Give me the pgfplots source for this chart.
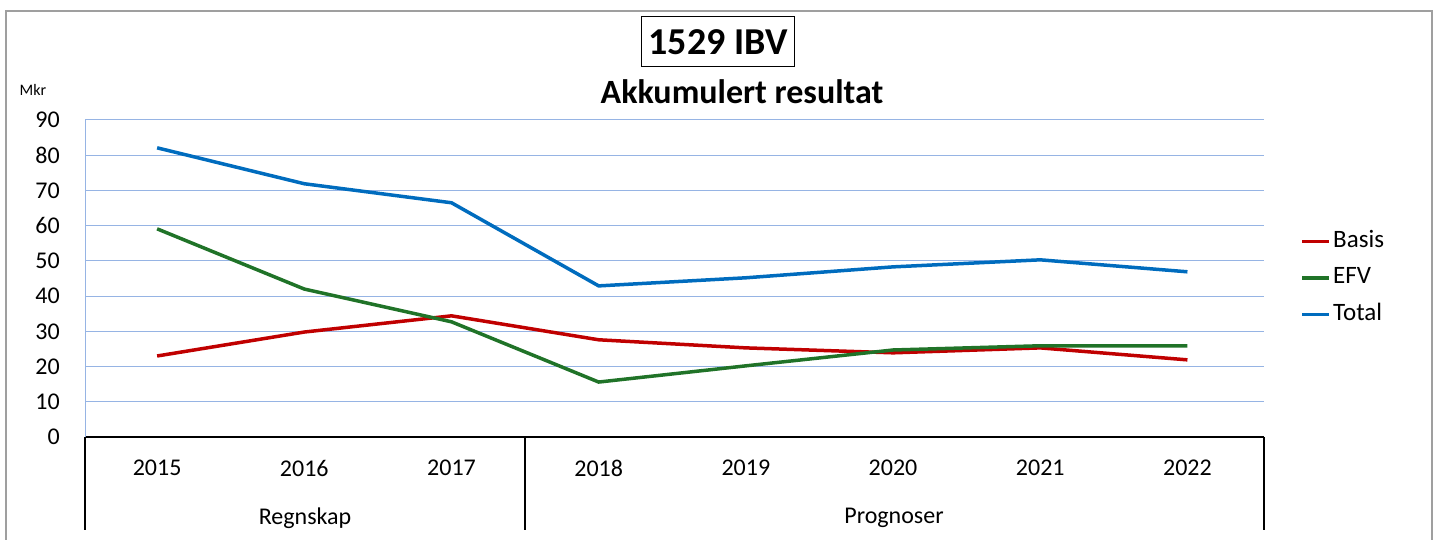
\documentclass[border=0pt]{standalone}
\usepackage{fontspec}
\setmainfont{Carlito}
\usepackage{pgfplots}
\pgfplotsset{compat=1.18}
\definecolor{cBasis}{RGB}{192,0,0}
\definecolor{cEFV}{RGB}{32,115,40}
\definecolor{cTotal}{RGB}{0,108,190}
\definecolor{cGrid}{RGB}{150,180,228}
\begin{document}
\begin{tikzpicture}
\useasboundingbox (0,0) rectangle (1437pt,540pt);
\draw[gray!75, line width=1.2pt] (6pt,0pt) -- (6pt,529pt) -- (1432pt,529pt) -- (1432pt,0pt);
\node[draw, line width=1pt, font=\fontsize{38}{40}\selectfont\bfseries, minimum height=50pt, inner xsep=7pt] at (718pt,498pt) {1529 IBV};
\node[font=\fontsize{34}{36}\selectfont\bfseries] at (742pt,448pt) {Akkumulert resultat};
\node[font=\fontsize{16}{18}\selectfont] at (33pt,450pt) {Mkr};
\begin{axis}[
  at={(85pt,103pt)}, anchor=south west,
  width=1179pt, height=317pt, scale only axis,
  xmin=-0.49, xmax=7.52, ymin=0, ymax=90,
  ytick={0,10,...,90},
  xtick={0,1,2,3,4,5,6,7},
  xticklabels={2015,2016,2017,2018,2019,2020,2021,2022},
  axis x line=bottom, axis y line=left,
  axis line style={-},
  x axis line style={black, line width=1.5pt},
  y axis line style={cGrid, line width=0.8pt},
  major tick length=0pt,
  ymajorgrids,
  major grid style={cGrid, line width=1pt},
  tick label style={font=\fontsize{24}{28}\selectfont},
  /pgf/number format/assume math mode=true,
  yticklabel style={anchor=east, inner xsep=0pt, xshift=-25pt},
  xticklabel style={anchor=center, yshift=-31pt},
  clip=false,
  legend style={at={(1.031,0.502)}, anchor=west, draw=none, fill=none, inner sep=0pt,
    font=\fontsize{25}{28}\selectfont,
    nodes={inner ysep=0pt, inner xsep=2pt, text height=17pt, text depth=5pt},
    row sep=14.5pt},
  legend cell align=left,
  legend image code/.code={\draw[#1] (0pt,0pt) -- (27pt,0pt);},
]
\addplot[cBasis, line width=3.5pt] coordinates {(0,23.0) (1,29.8) (2,34.4) (3,27.6) (4,25.3) (5,23.9) (6,25.3) (7,21.9)};
\addlegendentry{Basis}
\addplot[cEFV, line width=3.5pt] coordinates {(0,59.1) (1,42.0) (2,32.7) (3,15.6) (4,20.2) (5,24.7) (6,25.9) (7,25.9)};
\addlegendentry{EFV}
\addplot[cTotal, line width=3.5pt] coordinates {(0,82.1) (1,71.9) (2,66.5) (3,42.9) (4,45.2) (5,48.3) (6,50.3) (7,46.9)};
\addlegendentry{Total}
\end{axis}
\draw[black, line width=1.5pt] (85pt,103pt) -- (85pt,10pt);
\draw[black, line width=1.5pt] (525pt,103pt) -- (525pt,10pt);
\draw[black, line width=1.5pt] (1264pt,103pt) -- (1264pt,10pt);
\node[font=\fontsize{24}{28}\selectfont] at (305pt,22pt) {Regnskap};
\node[font=\fontsize{24}{28}\selectfont] at (894pt,22pt) {Prognoser};
\end{tikzpicture}
\end{document}
